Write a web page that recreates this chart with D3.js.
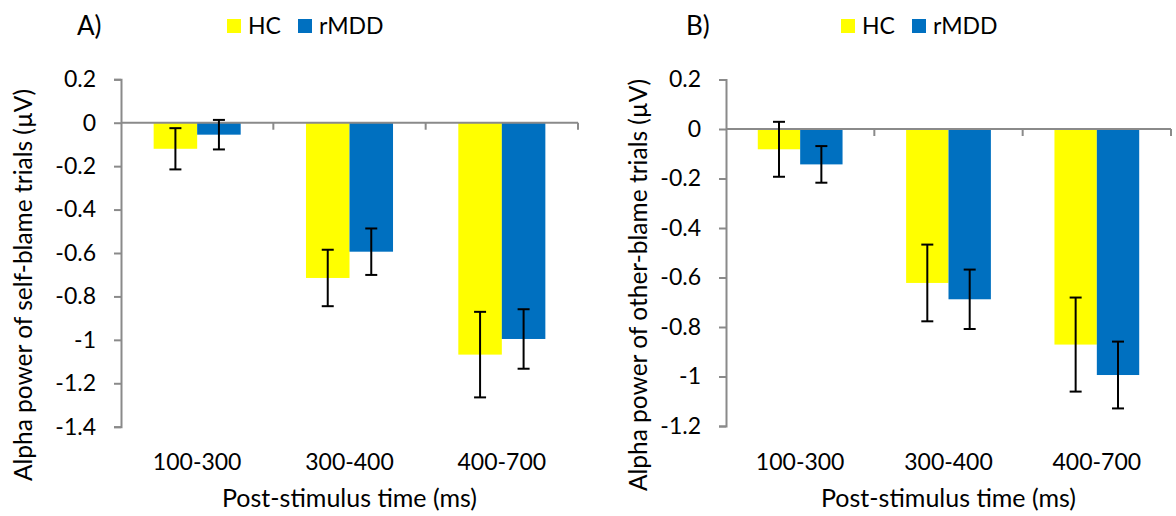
<!DOCTYPE html>
<html>
<head>
<meta charset="utf-8">
<script src="https://cdn.jsdelivr.net/npm/d3@7"></script>
<style>
  body { margin: 0; background: #fff; }
  svg text { font-family: Lato, "Open Sans", sans-serif; fill: #000; }
</style>
</head>
<body>
<svg id="chart" width="1176" height="516"></svg>
<script>

let categories = ["100-300", "300-400", "400-700"]
let groups = ["HC", "rMDD"]

// A) self-blame
let self_hc = [-0.12, -0.715, -1.068]
let self_hc_err = [0.095, 0.13, 0.197]
let self_mdd = [-0.055, -0.594, -0.996]
let self_mdd_err = [0.068, 0.107, 0.137]

// B) other-blame
let other_hc = [-0.082, -0.622, -0.871]
let other_hc_err = [0.111, 0.155, 0.19]
let other_mdd = [-0.143, -0.688, -0.994]
let other_mdd_err = [0.074, 0.12, 0.135]

let ticks_a = [0.2, 0, -0.2, -0.4, -0.6, -0.8, -1, -1.2, -1.4]
let ticks_b = [0.2, 0, -0.2, -0.4, -0.6, -0.8, -1, -1.2]

let colors = {"HC": "#FFFF00", "rMDD": "#0070C0"}
let axis_color = "#8a8a8a"

let svg = d3.select("#chart")

function draw_panel(p) {

  let g = svg.append("g")

  let y = d3.scaleLinear()
    .domain([d3.min(p.ticks), d3.max(p.ticks)])
    .range([p.bottom, p.top])

  let x = d3.scaleBand()
    .domain(categories)
    .range([p.left, p.right])
    .padding(0)

  let xg = d3.scaleBand()
    .domain(groups)
    .range([0, x.bandwidth()])
    .paddingInner(0)
    .paddingOuter(0.75)

  let rows = []
  categories.forEach((c, i) => {
    rows.push({cat: c, grp: "HC", v: p.hc[i], e: p.hc_err[i]})
    rows.push({cat: c, grp: "rMDD", v: p.mdd[i], e: p.mdd_err[i]})
  })

  // bars
  g.selectAll("rect.bar")
    .data(rows)
    .join("rect")
    .attr("class", "bar")
    .attr("x", d => x(d.cat) + xg(d.grp))
    .attr("width", xg.bandwidth())
    .attr("y", d => Math.min(y(0), y(d.v)))
    .attr("height", d => Math.abs(y(d.v) - y(0)))
    .attr("fill", d => colors[d.grp])

  // y axis
  let yAxis = d3.axisLeft(y)
    .tickValues(p.ticks)
    .tickSize(7)
    .tickPadding(18)
    .tickFormat(d => String(d))

  let ya = g.append("g")
    .attr("transform", "translate(" + p.left + ",0)")
    .call(yAxis)
  ya.select(".domain").attr("stroke", axis_color).attr("stroke-width", 2)
  ya.selectAll(".tick line").attr("stroke", axis_color).attr("stroke-width", 2)
  ya.selectAll(".tick text")
    .attr("font-size", 23)
    .attr("font-family", "Lato")
    .attr("fill", "#000")

  // zero line with category ticks
  let xa = g.append("g")
    .attr("transform", "translate(0," + y(0) + ")")
  xa.append("line")
    .attr("x1", p.left).attr("x2", p.right)
    .attr("stroke", axis_color).attr("stroke-width", 2)
  let bounds = categories.map(c => x(c)).concat([p.right])
  xa.selectAll("line.ctick")
    .data(bounds.slice(1))
    .join("line")
    .attr("class", "ctick")
    .attr("x1", d => d).attr("x2", d => d)
    .attr("y1", 0).attr("y2", 7)
    .attr("stroke", axis_color).attr("stroke-width", 2)

  // category labels, down at the bottom
  g.selectAll("text.cat")
    .data(categories)
    .join("text")
    .attr("class", "cat")
    .attr("x", d => x(d) + x.bandwidth() / 2)
    .attr("y", 470)
    .attr("text-anchor", "middle")
    .attr("font-size", 23)
    .text(d => d)

  // error bars
  let eb = g.selectAll("g.err")
    .data(rows)
    .join("g")
    .attr("class", "err")
    .attr("transform", d => "translate(" + (x(d.cat) + xg(d.grp) + xg.bandwidth() / 2) + ",0)")
  eb.append("line")
    .attr("y1", d => y(d.v + d.e)).attr("y2", d => y(d.v - d.e))
    .attr("stroke", "#000").attr("stroke-width", 2)
  eb.selectAll("line.cap")
    .data(d => [d.v + d.e, d.v - d.e])
    .join("line")
    .attr("class", "cap")
    .attr("x1", -6).attr("x2", 6)
    .attr("y1", d => y(d)).attr("y2", d => y(d))
    .attr("stroke", "#000").attr("stroke-width", 2)

  // axis titles
  g.append("text")
    .attr("x", (p.left + p.right) / 2)
    .attr("y", 507)
    .attr("text-anchor", "middle")
    .attr("font-size", 25)
    .text("Post-stimulus time (ms)")

  g.append("text")
    .attr("transform", "translate(" + p.ytitle_x + "," + p.ytitle_y + ") rotate(-90)")
    .attr("text-anchor", "middle")
    .attr("dy", "0.35em")
    .attr("font-size", 24.5)
    .text(p.ytitle)

  // panel label
  g.append("text")
    .attr("x", p.label_x)
    .attr("y", 35)
    .attr("font-size", 26)
    .text(p.label)

  // legend
  let lg = g.selectAll("g.leg")
    .data(groups)
    .join("g")
    .attr("class", "leg")
    .attr("transform", (d, i) => "translate(" + p.legend_x[i] + ",19)")
  lg.append("rect")
    .attr("width", 14).attr("height", 14)
    .attr("fill", d => colors[d])
  lg.append("text")
    .attr("x", 21)
    .attr("y", 15)
    .attr("font-size", 23)
    .text(d => d)
}

draw_panel({
  left: 121, right: 578, top: 79.3, bottom: 426.7,
  ticks: ticks_a,
  hc: self_hc, hc_err: self_hc_err, mdd: self_mdd, mdd_err: self_mdd_err,
  ytitle: "Alpha power of self-blame trials (µV)", ytitle_x: 23, ytitle_y: 285,
  label: "A)", label_x: 77,
  legend_x: [227, 298]
})

draw_panel({
  left: 726, right: 1171, top: 79.5, bottom: 426,
  ticks: ticks_b,
  hc: other_hc, hc_err: other_hc_err, mdd: other_mdd, mdd_err: other_mdd_err,
  ytitle: "Alpha power of other-blame trials (µV)", ytitle_x: 638, ytitle_y: 285,
  label: "B)", label_x: 686,
  legend_x: [841, 912]
})

</script>
</body>
</html>
